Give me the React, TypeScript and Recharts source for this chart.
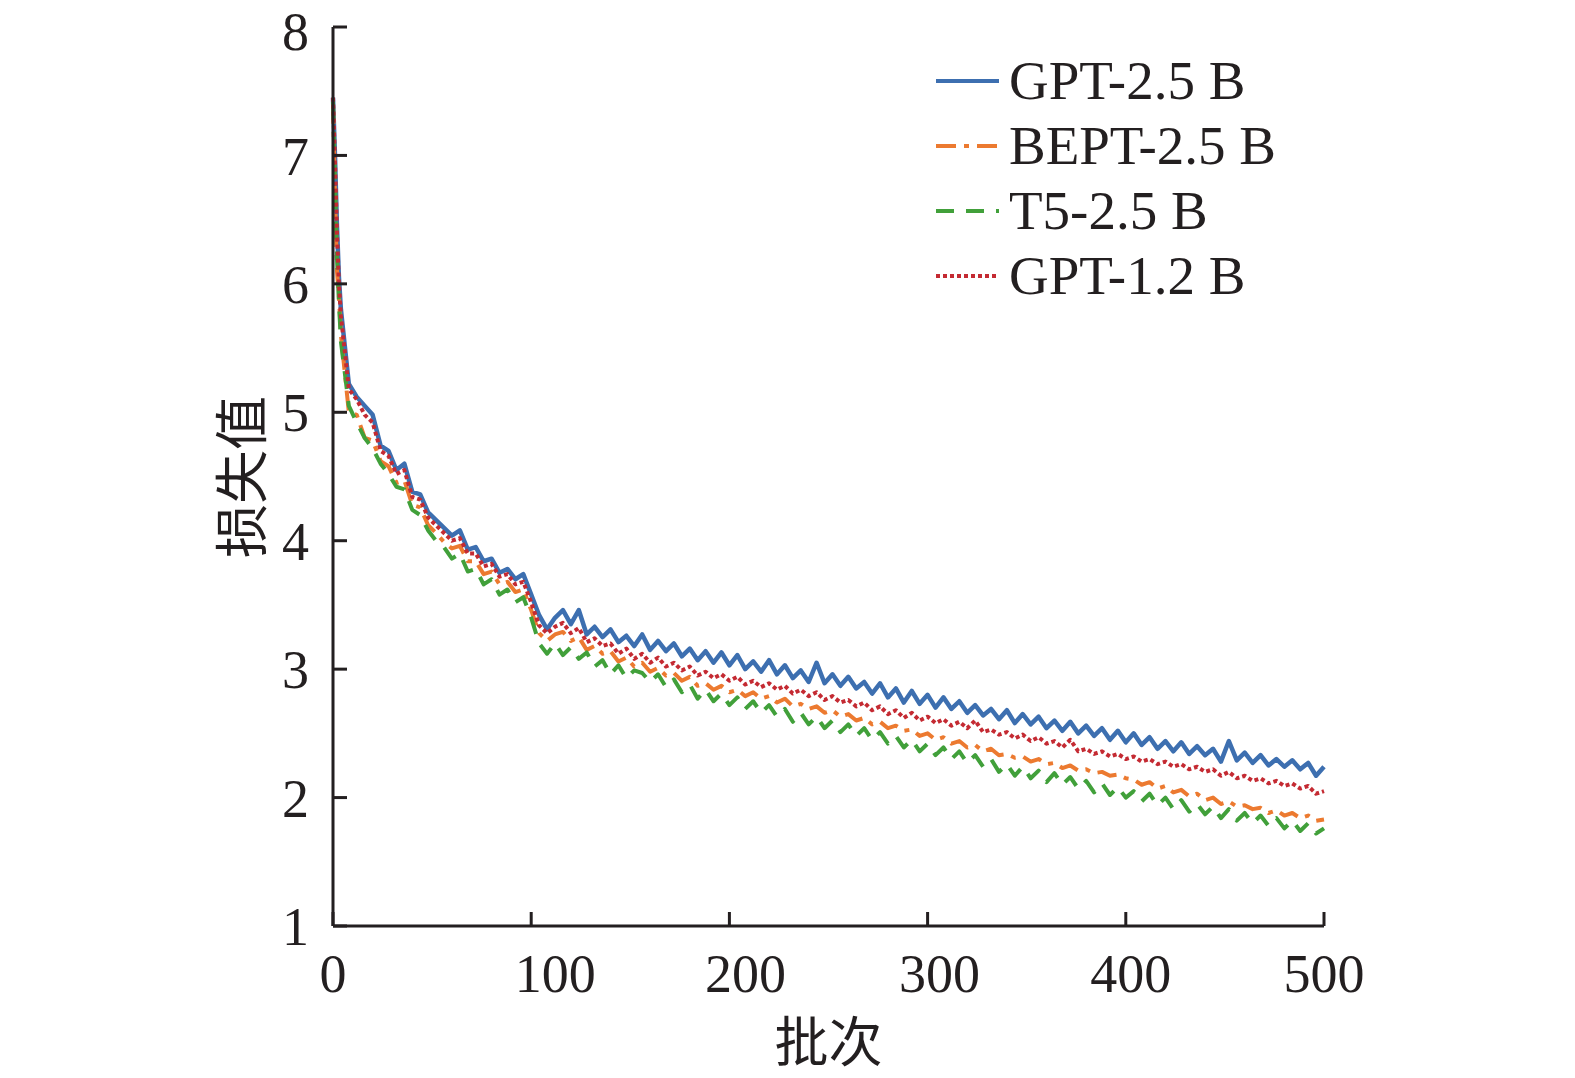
import { LineChart, Line, XAxis, YAxis } from 'recharts';

document.body.style.margin = '0';
document.body.style.overflow = 'hidden';

// batch index (x axis)
const batches = [
  0, 1, 2, 3, 4, 8, 12, 16, 20, 24, 28, 32, 36, 40, 44, 48, 52, 56, 60, 64,
  68, 72, 76, 80, 84, 88, 92, 96, 100, 104, 108, 112, 116, 120, 124, 128, 132, 136, 140, 144,
  148, 152, 156, 160, 164, 168, 172, 176, 180, 184, 188, 192, 196, 200, 204, 208, 212, 216, 220, 224,
  228, 232, 236, 240, 244, 248, 252, 256, 260, 264, 268, 272, 276, 280, 284, 288, 292, 296, 300, 304,
  308, 312, 316, 320, 324, 328, 332, 336, 340, 344, 348, 352, 356, 360, 364, 368, 372, 376, 380, 384,
  388, 392, 396, 400, 404, 408, 412, 416, 420, 424, 428, 432, 436, 440, 444, 448, 452, 456, 460, 464,
  468, 472, 476, 480, 484, 488, 492, 496, 500,
];

const gpt25 = [
  7.45, 7.0, 6.45, 6.05, 5.8, 5.22, 5.12, 5.05, 4.98, 4.74, 4.7, 4.55, 4.6, 4.38, 4.36, 4.22, 4.16, 4.1, 4.04, 4.08,
  3.93, 3.95, 3.84, 3.86, 3.75, 3.78, 3.7, 3.74, 3.58, 3.42, 3.31, 3.4, 3.46, 3.35, 3.46, 3.27, 3.33, 3.25, 3.31, 3.21,
  3.26, 3.18, 3.27, 3.15, 3.22, 3.14, 3.2, 3.1, 3.16, 3.07, 3.14, 3.05, 3.13, 3.03, 3.11, 3.0, 3.06, 2.98, 3.07, 2.96,
  3.03, 2.93, 2.99, 2.9, 3.05, 2.89, 2.96, 2.87, 2.94, 2.85, 2.9, 2.81, 2.89, 2.78, 2.85, 2.74, 2.83, 2.73, 2.8, 2.7,
  2.78, 2.69, 2.75, 2.66, 2.72, 2.64, 2.69, 2.61, 2.68, 2.58, 2.65, 2.57, 2.63, 2.54, 2.6, 2.52, 2.59, 2.5, 2.56, 2.48,
  2.54, 2.45, 2.52, 2.43, 2.5, 2.41, 2.47, 2.38, 2.44, 2.36, 2.43, 2.34, 2.4, 2.33, 2.38, 2.28, 2.44, 2.29, 2.35, 2.27,
  2.33, 2.25, 2.3, 2.24, 2.29, 2.22, 2.27, 2.17, 2.24,
];

const bept25 = [
  7.4, 6.7, 6.1, 5.9, 5.6, 5.0, 4.98, 4.8, 4.78, 4.62, 4.58, 4.45, 4.47, 4.28, 4.26, 4.12, 4.06, 3.99, 3.94, 3.96,
  3.84, 3.84, 3.74, 3.76, 3.66, 3.68, 3.6, 3.62, 3.46, 3.28, 3.22, 3.27, 3.29, 3.22, 3.25, 3.15, 3.18, 3.12, 3.14, 3.06,
  3.09, 3.02, 3.05, 2.98, 3.01, 2.95, 2.97, 2.91, 2.94, 2.87, 2.89, 2.84, 2.87, 2.82, 2.84, 2.79, 2.82, 2.77, 2.79, 2.74,
  2.77, 2.71, 2.73, 2.69, 2.71, 2.66, 2.68, 2.63, 2.65, 2.6, 2.62, 2.57, 2.59, 2.54, 2.56, 2.52, 2.53, 2.48, 2.5, 2.45,
  2.47, 2.42, 2.44, 2.39, 2.41, 2.36, 2.38, 2.33, 2.34, 2.31, 2.32, 2.28, 2.3, 2.26, 2.27, 2.23, 2.25, 2.21, 2.22, 2.19,
  2.2, 2.17, 2.18, 2.15, 2.14, 2.1, 2.12, 2.07, 2.09, 2.04, 2.06, 2.01, 2.03, 1.98, 2.0, 1.95, 1.97, 1.93, 1.94, 1.91,
  1.92, 1.88, 1.9, 1.86, 1.88, 1.84, 1.86, 1.82, 1.83,
];

const t525 = [
  7.42, 6.8, 6.2, 5.85, 5.55, 5.05, 4.92, 4.8, 4.72, 4.6, 4.52, 4.42, 4.4, 4.24, 4.2, 4.08, 4.0, 3.95, 3.86, 3.9,
  3.76, 3.78, 3.66, 3.7, 3.58, 3.62, 3.52, 3.56, 3.4, 3.2, 3.12, 3.2, 3.11, 3.17, 3.08, 3.13, 3.02, 3.07, 2.96, 3.03,
  2.93, 2.99, 2.97, 2.9, 2.96, 2.86, 2.92, 2.82, 2.88, 2.77, 2.84, 2.75, 2.81, 2.72, 2.78, 2.69, 2.75, 2.66, 2.72, 2.63,
  2.69, 2.59, 2.66, 2.57, 2.63, 2.54, 2.6, 2.51, 2.57, 2.48, 2.54, 2.45, 2.51, 2.42, 2.48, 2.39, 2.45, 2.36, 2.42, 2.33,
  2.39, 2.3, 2.36, 2.27, 2.33, 2.24, 2.3, 2.2, 2.26, 2.17, 2.24, 2.15, 2.21, 2.12, 2.19, 2.1, 2.16, 2.07, 2.13, 2.04,
  2.11, 2.02, 2.08, 2.0, 2.05, 1.97, 2.03, 1.94, 2.0, 1.91, 1.98, 1.89, 1.95, 1.87, 1.93, 1.84, 1.91, 1.82, 1.88, 1.8,
  1.86, 1.78, 1.84, 1.76, 1.82, 1.74, 1.8, 1.72, 1.76,
];

const gpt12 = [
  7.45, 6.95, 6.4, 6.0, 5.75, 5.18, 5.1, 4.98, 4.92, 4.7, 4.66, 4.52, 4.55, 4.34, 4.32, 4.18, 4.12, 4.06, 4.0, 4.02,
  3.9, 3.9, 3.8, 3.82, 3.72, 3.74, 3.66, 3.68, 3.52, 3.34, 3.28, 3.33, 3.36, 3.28, 3.32, 3.21, 3.24, 3.18, 3.2, 3.12,
  3.16, 3.08, 3.12, 3.05, 3.09, 3.02, 3.05, 2.99, 3.02, 2.95, 2.98, 2.93, 2.96, 2.91, 2.94, 2.88, 2.91, 2.86, 2.89, 2.84,
  2.87, 2.81, 2.84, 2.79, 2.82, 2.76, 2.79, 2.74, 2.76, 2.71, 2.74, 2.68, 2.71, 2.65, 2.68, 2.62, 2.66, 2.6, 2.63, 2.58,
  2.61, 2.56, 2.59, 2.54, 2.6, 2.51, 2.53, 2.49, 2.51, 2.46, 2.49, 2.44, 2.47, 2.42, 2.44, 2.39, 2.45, 2.36, 2.38, 2.34,
  2.36, 2.32, 2.34, 2.3, 2.32, 2.28, 2.3, 2.26, 2.28, 2.24, 2.26, 2.22, 2.24, 2.2, 2.22, 2.17, 2.2, 2.15, 2.17, 2.13,
  2.15, 2.11, 2.13, 2.09, 2.11, 2.07, 2.09, 2.03, 2.05,
];

const yTicks = [1, 2, 3, 4, 5, 6, 7, 8];
const xTicks = [0, 100, 200, 300, 400, 500];
// the source figure sets its x tick labels slightly right of the tick marks
const xLabelShift: Record<number, number> = { 0: 0, 100: 24, 200: 16, 300: 12, 400: 5, 500: 0 };

const series = [
  { key: 'gpt25', name: 'GPT-2.5 B', color: '#3d6fb0', dash: undefined, width: 4.5 },
  { key: 'bept25', name: 'BEPT-2.5 B', color: '#ec7a30', dash: '20 8 5 8', width: 4 },
  { key: 't525', name: 'T5-2.5 B', color: '#41a03a', dash: '18 12', width: 4 },
  { key: 'gpt12', name: 'GPT-1.2 B', color: '#c42a32', dash: '4 3', width: 4 },
];

const data = batches.map((b, i) => ({
  batch: b,
  gpt25: gpt25[i],
  bept25: bept25[i],
  t525: t525[i],
  gpt12: gpt12[i],
}));

const serif = '"Liberation Serif", "Times New Roman", serif';
const cjk = '"Noto Sans CJK SC", "Liberation Serif", serif';
const ink = '#231f20';

function XTick(props: any) {
  const { x, y, payload } = props;
  return (
    <text
      x={x + (xLabelShift[payload.value] ?? 0)}
      y={y}
      dy="0.71em"
      textAnchor="middle"
      fill={ink}
      fontSize={54}
      fontFamily={serif}
    >
      {payload.value}
    </text>
  );
}

function LegendBox() {
  return (
    <div
      style={{
        position: 'absolute', left: 934, top: 48,
        fontFamily: serif, fontSize: 55, color: ink, lineHeight: '65px',
      }}
    >
      {series.map(s => (
        <div key={s.key} style={{ display: 'flex', alignItems: 'center', height: 65 }}>
          <svg width={75} height={20}>
            <line x1={2} y1={10} x2={65} y2={10} stroke={s.color} strokeWidth={4} strokeDasharray={s.dash} />
          </svg>
          <span>{s.name}</span>
        </div>
      ))}
    </div>
  );
}

export default function App() {
  return (
    <div style={{ position: 'relative', width: 1575, height: 1078, background: '#fff', overflow: 'hidden' }}>
      <LineChart
        width={1575}
        height={1078}
        data={data}
        margin={{ top: 27, right: 251, bottom: 92, left: 233 }}
      >
        <XAxis
          dataKey="batch"
          type="number"
          domain={[0, 500]}
          ticks={xTicks}
          height={60}
          axisLine={{ stroke: ink, strokeWidth: 3 }}
          tickLine={{ stroke: ink, strokeWidth: 3 }}
          tickSize={-14}
          tickMargin={42}
          tick={<XTick />}
          label={{ value: '批次', position: 'bottom', offset: 38, fill: ink, fontSize: 54, fontFamily: cjk }}
        />
        <YAxis
          type="number"
          domain={[1, 8]}
          ticks={yTicks}
          width={100}
          axisLine={{ stroke: ink, strokeWidth: 3 }}
          tickLine={{ stroke: ink, strokeWidth: 3 }}
          tickSize={-14}
          tickMargin={38}
          tick={{ fill: ink, fontSize: 54, fontFamily: serif }}
          label={{
            content: () => (
              <text
                x={238}
                y={477}
                transform="rotate(-90 238 477)"
                textAnchor="middle"
                dominantBaseline="central"
                fill={ink}
                fontSize={54}
                fontFamily={cjk}
              >
                损失值
              </text>
            ),
          }}
        />
        {series.map(s => (
          <Line
            key={s.key}
            type="linear"
            dataKey={s.key}
            name={s.name}
            stroke={s.color}
            strokeWidth={s.width}
            strokeDasharray={s.dash}
            strokeLinejoin="round"
            dot={false}
            isAnimationActive={false}
          />
        ))}
      </LineChart>
      <LegendBox />
    </div>
  );
}
